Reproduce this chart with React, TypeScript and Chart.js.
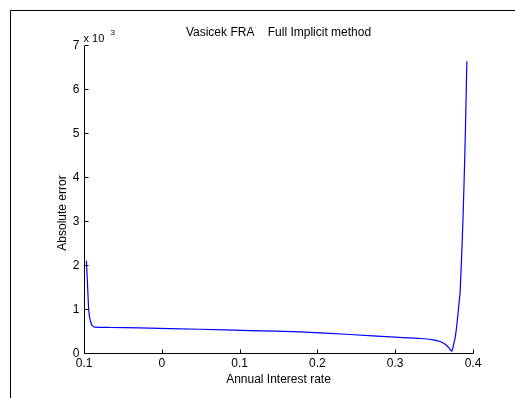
import React, { useEffect, useRef } from 'react';
import { Chart, registerables } from 'chart.js';

Chart.register(...registerables);

// Interest rate (x) and absolute error (y, in units of 10^-3 as shown on the axis)
const rates = [
  -0.0969, -0.0952, -0.094, -0.0927, -0.0905, -0.0888, -0.0862, -0.0669, -0.0283,
  0.0489, 0.1133, 0.1776, 0.242, 0.3, 0.332, 0.3488, 0.3578, 0.3642, 0.3694,
  0.3728, 0.3752, 0.3771, 0.3793, 0.3813, 0.3835, 0.387, 0.39, 0.3921,
];
const errors = [
  2.1, 1.45, 1.0, 0.8, 0.66, 0.61, 0.59, 0.58, 0.57,
  0.54, 0.51, 0.48, 0.42, 0.36, 0.33, 0.3, 0.26, 0.2, 0.11,
  0.04, 0.2, 0.35, 0.65, 1.0, 1.4, 2.96, 4.85, 6.63,
];

const xTickValues = [-0.1, 0, 0.1, 0.2, 0.3, 0.4];
const xTickLabels = ['0.1', '0', '0.1', '0.2', '0.3', '0.4'];
const yTickValues = [0, 1, 2, 3, 4, 5, 6, 7];
const yTickLabels = ['0', '1', '2', '3', '4', '5', '6', '7'];

const titleText = 'Vasicek FRA    Full Implicit method';
const xLabel = 'Annual Interest rate';
const yLabel = 'Absolute error';
const multiplierBase = 'x 10';
const multiplierExp = '3';

const FONT = '"Liberation Sans", Arial, sans-serif';

const matlabAxes = {
  id: 'matlabAxes',
  afterDraw(chart: any) {
    const ctx = chart.ctx as CanvasRenderingContext2D;
    const xs = chart.scales.x;
    const ys = chart.scales.y;
    const area = chart.chartArea;
    ctx.save();
    // outer frame (top and left)
    ctx.strokeStyle = '#000';
    ctx.lineWidth = 1;
    ctx.beginPath();
    ctx.moveTo(10.5, chart.height);
    ctx.lineTo(10.5, 10.5);
    ctx.lineTo(chart.width, 10.5);
    ctx.stroke();

    // axes lines
    const x0 = Math.round(xs.getPixelForValue(xTickValues[0])) + 0.5;
    const y0 = Math.round(ys.getPixelForValue(yTickValues[0])) + 0.5;
    const xEnd = Math.round(xs.getPixelForValue(xTickValues[xTickValues.length - 1])) + 0.5;
    const yEnd = Math.round(ys.getPixelForValue(yTickValues[yTickValues.length - 1])) + 0.5;
    ctx.beginPath();
    ctx.moveTo(x0, yEnd);
    ctx.lineTo(x0, y0);
    ctx.lineTo(xEnd, y0);
    ctx.stroke();

    // inward ticks
    const tl = 4;
    ctx.beginPath();
    xTickValues.forEach((v) => {
      const px = Math.round(xs.getPixelForValue(v)) + 0.5;
      ctx.moveTo(px, y0);
      ctx.lineTo(px, y0 - tl);
    });
    yTickValues.forEach((v) => {
      const py = Math.round(ys.getPixelForValue(v)) + 0.5;
      ctx.moveTo(x0, py);
      ctx.lineTo(x0 + tl, py);
    });
    ctx.stroke();

    ctx.fillStyle = '#000';
    ctx.font = `12px ${FONT}`;
    // x tick labels
    ctx.textAlign = 'center';
    ctx.textBaseline = 'top';
    xTickValues.forEach((v, i) => {
      ctx.fillText(xTickLabels[i], xs.getPixelForValue(v), y0 + 4);
    });
    // y tick labels
    ctx.textAlign = 'right';
    ctx.textBaseline = 'middle';
    yTickValues.forEach((v, i) => {
      ctx.fillText(yTickLabels[i], x0 - 5, ys.getPixelForValue(v) + 1);
    });

    // multiplier
    ctx.textAlign = 'left';
    ctx.textBaseline = 'alphabetic';
    ctx.font = `11px ${FONT}`;
    ctx.fillText(multiplierBase, x0 - 1, yEnd - 4);
    ctx.font = `8px ${FONT}`;
    ctx.fillText(multiplierExp, x0 + 26, yEnd - 11);

    // title
    ctx.font = `12px ${FONT}`;
    ctx.textAlign = 'center';
    ctx.textBaseline = 'middle';
    const cx = (area.left + area.right) / 2;
    ctx.fillText(titleText, cx, 33);

    // x label
    ctx.fillText(xLabel, cx, y0 + 26);

    // y label
    ctx.save();
    ctx.translate(63, 213);
    ctx.rotate(-Math.PI / 2);
    ctx.fillText(yLabel, 0, 0);
    ctx.restore();

    ctx.restore();
  },
};

export default function App() {
  const ref = useRef<HTMLCanvasElement | null>(null);
  useEffect(() => {
    document.body.style.margin = '0';
    const canvas = ref.current;
    if (!canvas) return;
    const chart = new Chart(canvas, {
      type: 'line',
      data: {
        datasets: [
          {
            data: rates.map((r, i) => ({ x: r, y: errors[i] })),
            borderColor: '#0000ff',
            borderWidth: 1.2,
            pointRadius: 0,
            tension: 0.2,
            fill: false,
          },
        ],
      },
      options: {
        responsive: false,
        animation: false,
        events: [],
        layout: { padding: { left: 84, right: 42, top: 45, bottom: 45 } },
        plugins: { legend: { display: false }, tooltip: { enabled: false }, title: { display: false } },
        scales: {
          x: { type: 'linear', min: -0.1, max: 0.4, display: false },
          y: { type: 'linear', min: 0, max: 7, display: false },
        },
      },
      plugins: [matlabAxes],
    });
    return () => chart.destroy();
  }, []);
  return (
    <div style={{ width: 515, height: 398, background: '#fff' }}>
      <canvas ref={ref} width={515} height={398} style={{ display: 'block' }} />
    </div>
  );
}
